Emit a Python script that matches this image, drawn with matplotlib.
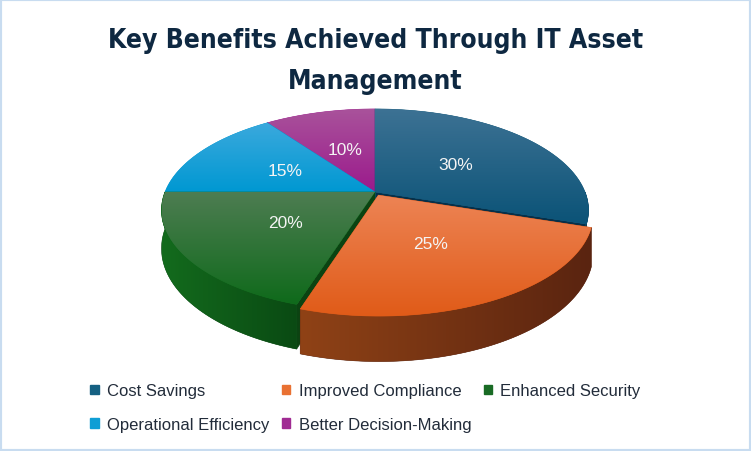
import numpy as np
import matplotlib.pyplot as plt
from matplotlib.patches import Polygon, Rectangle, Patch
from matplotlib.colors import to_rgb

labels = ['Cost Savings', 'Improved Compliance', 'Enhanced Security',
          'Operational Efficiency', 'Better Decision-Making']
values = [30, 25, 20, 15, 10]
explode = [0, 0.035, 0, 0, 0]
colors = ['#156082', '#E97132', '#196B24', '#0F9ED5', '#A02B93']
# top face gradient (top colour, bottom colour) and side wall colours
top_grad = [('#3d7294', '#0b5377'), ('#ed8455', '#e05b18'), ('#4e7d52', '#0f6a1b'),
            ('#3ba9dd', '#0098d2'), ('#a9539b', '#9b1a8c')]
wall_grad = [('#0b4563', '#083650'), ('#8f4216', '#5a2410'), ('#136b1d', '#0a4a13'),
             ('#0a6f99', '#075a7d'), ('#751f6b', '#5e1656')]
face_col = ['#06304a', '#5a2410', '#0b4312', '#075a7d', '#5e1656']

# layout of the projected pie (pixels)
CX, CY = 375, 193
RX, RY = 210, 98
K = 0.18
H = 37


def proj(u, v, z=0.0):
    s = 1.0 / (1.0 + K * v)
    return CX + RX * u * s, CY - RY * v * s + H * z * s


fig = plt.figure(figsize=(7.51, 4.52), dpi=100)
ax = fig.add_axes([0, 0, 1, 1])
ax.set_xlim(0, 751)
ax.set_ylim(452, 0)
ax.axis('off')

zc = [1]


def grad_fill(pts, c1, c2, vertical=True):
    pts = np.asarray(pts)
    z = zc[0]
    zc[0] += 1
    base = Polygon(pts, closed=True, facecolor=c2, edgecolor=c2, lw=0.4, zorder=z)
    ax.add_patch(base)
    x0, x1 = pts[:, 0].min(), pts[:, 0].max()
    y0, y1 = pts[:, 1].min(), pts[:, 1].max()
    t = np.linspace(0, 1, 128)
    a, b = np.array(to_rgb(c1)), np.array(to_rgb(c2))
    g = a[None, :] * (1 - t[:, None]) + b[None, :] * t[:, None]
    img = g[:, None, :] if vertical else g[None, :, :]
    im = ax.imshow(img, extent=(x0, x1, y1, y0), origin='upper', aspect='auto',
                   interpolation='bilinear', zorder=z + 0.1)
    im.set_clip_path(base)


total = sum(values)
angles = []
cum = 0
for v in values:
    t1 = 90 - cum / total * 360
    cum += v
    t2 = 90 - cum / total * 360
    angles.append((t1, t2))

mids = [np.radians((a + b) / 2) for a, b in angles]
order = sorted(range(len(values)), key=lambda i: -np.sin(mids[i]))

for i in order:
    t1, t2 = angles[i]
    ou = explode[i] * np.cos(mids[i])
    ov = explode[i] * np.sin(mids[i])
    th = np.radians(np.linspace(t1, t2, 120))

    # radial faces that face the viewer (slices run clockwise from t1 to t2)
    for edge, side in ((t1, 90), (t2, -90)):
        n = np.radians(edge + side)
        if np.sin(n) < 0:
            e = np.radians(edge)
            p = [proj(ou, ov), proj(ou + np.cos(e), ov + np.sin(e)),
                 proj(ou + np.cos(e), ov + np.sin(e), 1), proj(ou, ov, 1)]
            ax.add_patch(Polygon(p, closed=True, facecolor=face_col[i],
                                 edgecolor=face_col[i], lw=0.4, zorder=zc[0]))
            zc[0] += 1

    # outer wall, front half only
    lo, hi = max(t2, -180), min(t1, 0)
    if hi > lo:
        tw = np.radians(np.linspace(hi, lo, 120))
        top = [proj(ou + np.cos(a), ov + np.sin(a)) for a in tw]
        bot = [proj(ou + np.cos(a), ov + np.sin(a), 1) for a in tw[::-1]]
        grad_fill(top + bot, wall_grad[i][0], wall_grad[i][1], vertical=False)

    # top face
    pts = [proj(ou, ov)] + [proj(ou + np.cos(a), ov + np.sin(a)) for a in th]
    grad_fill(pts, top_grad[i][0], top_grad[i][1], vertical=True)

    # data label
    r = 0.5
    lx, ly = proj(ou + r * np.cos(mids[i]), ov + r * np.sin(mids[i]))
    ax.text(lx, ly, f'{values[i]}%', color='#f4f4f4', fontsize=12.5,
            family=['Liberation Sans', 'DejaVu Sans'], ha='center', va='center', zorder=100)

ax.set_xlim(0, 751)
ax.set_ylim(452, 0)

title_kw = dict(ha='center', va='baseline', fontsize=19, fontweight='bold', color='#0E2841',
                family=['DejaVu Sans'], fontstretch='condensed')
fig.text(0.5, 1 - 48 / 452, 'Key Benefits Achieved Through IT Asset', **title_kw)
fig.text(0.5, 1 - 89 / 452, 'Management', **title_kw)

handles = [Patch(facecolor=c, edgecolor=c) for c in colors]
idx = [0, 3, 1, 4, 2]
fig.legend([handles[k] for k in idx], [labels[k] for k in idx], ncol=3,
           loc='upper left', bbox_to_anchor=(82 / 751, 1 - 376 / 452), frameon=False,
           prop={'family': ['Liberation Sans', 'DejaVu Sans'], 'size': 12},
           labelcolor='#222c3a', handlelength=0.5, handleheight=0.5,
           handletextpad=0.5, columnspacing=0.75, labelspacing=1.1, borderpad=0)

fig.patches.append(Rectangle((0, 0), 1, 1, transform=fig.transFigure, fill=False,
                             edgecolor='#c8dcf0', lw=3))

fig.savefig('out.png', dpi=100)
